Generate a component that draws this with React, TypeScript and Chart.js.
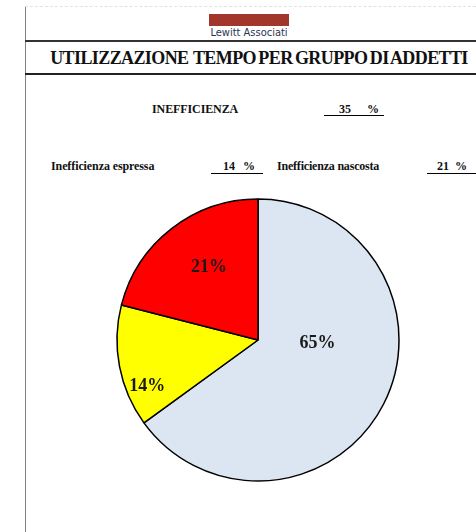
import React, { useEffect, useRef } from "react";
import { Chart, registerables } from "chart.js";

Chart.register(...registerables);

const categories = ["Tempo utile", "Inefficienza espressa", "Inefficienza nascosta"];
const shares = [65, 14, 21];
const sliceColors = ["#DCE6F2", "#FFFF00", "#FF0000"];
const inefficiencyTotal = 35;
const inefficiencyExpressed = 14;
const inefficiencyHidden = 21;
// label placement inside each slice: fraction of slice angle, fraction of radius
const labelAngleFrac = [0.398, 0.266, 0.55];
const labelRadiusFrac = [0.423, 0.85, 0.62];

const serif = "'Liberation Serif', 'Times New Roman', serif";

const labelPlugin = {
  id: "sliceLabels",
  afterDatasetsDraw(chart: any) {
    const ctx = chart.ctx;
    const meta = chart.getDatasetMeta(0);
    ctx.save();
    ctx.font = `bold 18px ${serif}`;
    ctx.fillStyle = "#1a1a1a";
    ctx.textAlign = "center";
    ctx.textBaseline = "middle";
    meta.data.forEach((arc: any, i: number) => {
      const p = arc.getProps(["x", "y", "startAngle", "endAngle", "outerRadius"], true);
      const a = p.startAngle + (p.endAngle - p.startAngle) * labelAngleFrac[i];
      const r = p.outerRadius * labelRadiusFrac[i];
      ctx.fillText(`${shares[i]}%`, p.x + Math.cos(a) * r, p.y + Math.sin(a) * r);
    });
    ctx.restore();
  },
};

const abs = (s: React.CSSProperties): React.CSSProperties => ({ position: "absolute", ...s });

export default function App() {
  const ref = useRef<HTMLCanvasElement>(null);
  useEffect(() => {
    if (!ref.current) return;
    const chart = new Chart(ref.current, {
      type: "pie",
      data: {
        labels: categories,
        datasets: [
          {
            data: shares,
            backgroundColor: sliceColors,
            borderColor: "#000000",
            borderWidth: 1.5,
            hoverOffset: 0,
          },
        ],
      },
      options: {
        animation: false,
        responsive: false,
        radius: 141,
        layout: { padding: 0 },
        plugins: { legend: { display: false }, tooltip: { enabled: false }, title: { display: false } },
        events: [],
      },
      plugins: [labelPlugin],
    });
    return () => chart.destroy();
  }, []);

  const bold = (size: number): React.CSSProperties => ({
    fontFamily: serif,
    fontWeight: "bold",
    fontSize: size,
    color: "#111",
    whiteSpace: "nowrap",
    lineHeight: "1",
  });

  return (
    <div style={{ position: "fixed", left: 0, top: 0, width: 476, height: 532, background: "#fff", overflow: "hidden" }}>
      {/* top faint dashed line */}
      <div style={abs({ left: 25, top: 6, width: 451, height: 0, borderTop: "1px dashed #e2e2e2" })} />
      {/* left border */}
      <div style={abs({ left: 25, top: 7, width: 1, height: 525, background: "#7f7f7f" })} />
      {/* logo */}
      <div style={abs({ left: 209, top: 14, width: 80, height: 12, background: "#A2362B" })} />
      <div style={abs({ left: 189, top: 27, width: 120, textAlign: "center", fontFamily: "'DejaVu Sans Condensed', 'DejaVu Sans', sans-serif", fontStretch: "condensed", fontSize: 11, color: "#2c3550", lineHeight: "12px" })}>
        Lewitt Associati
      </div>
      <div style={abs({ left: 25, top: 40, width: 451, height: 1.5, background: "#333" })} />
      {/* title */}
      <div style={abs({ left: 26, top: 49, width: 466, textAlign: "center", ...bold(18), letterSpacing: "-0.6px", wordSpacing: "-1.5px" })}>
        UTILIZZAZIONE&nbsp; TEMPO PER GRUPPO DI ADDETTI
      </div>
      <div style={abs({ left: 25, top: 73, width: 451, height: 1.5, background: "#222" })} />

      {/* inefficienza totale */}
      <div style={abs({ left: 152, top: 103, ...bold(12), letterSpacing: "-0.1px" })}>INEFFICIENZA</div>
      <div style={abs({ left: 339, top: 103, ...bold(12) })}>{inefficiencyTotal}</div>
      <div style={abs({ left: 367, top: 103, ...bold(12) })}>%</div>
      <div style={abs({ left: 324, top: 115, width: 60, height: 1, background: "#000" })} />

      {/* espressa / nascosta */}
      <div style={abs({ left: 51, top: 160, ...bold(12), letterSpacing: "-0.1px" })}>Inefficienza espressa</div>
      <div style={abs({ left: 223, top: 160, ...bold(12) })}>{inefficiencyExpressed}</div>
      <div style={abs({ left: 243, top: 160, ...bold(12) })}>%</div>
      <div style={abs({ left: 211, top: 173, width: 52, height: 1, background: "#000" })} />

      <div style={abs({ left: 277, top: 160, ...bold(12), letterSpacing: "-0.2px" })}>Inefficienza nascosta</div>
      <div style={abs({ left: 437, top: 160, ...bold(12) })}>{inefficiencyHidden}</div>
      <div style={abs({ left: 455, top: 160, ...bold(12) })}>%</div>
      <div style={abs({ left: 427, top: 173, width: 49, height: 1, background: "#000" })} />

      <canvas ref={ref} width={300} height={300} style={abs({ left: 108, top: 190, width: 300, height: 300 })} />
    </div>
  );
}
